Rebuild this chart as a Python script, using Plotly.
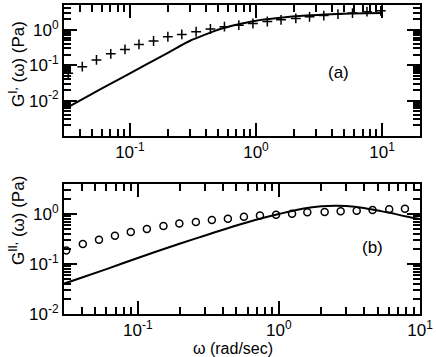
import numpy as np
import plotly.graph_objects as go

# --- data ---
# (a) storage modulus G'
w_a = [0.0324, 0.0419, 0.0543, 0.0705, 0.0914, 0.118, 0.154, 0.200, 0.258, 0.335, 0.435, 0.562,
       0.731, 0.946, 1.23, 1.58, 2.07, 2.66, 3.45, 4.47, 5.83, 7.59, 9.77]
g1_pts = [0.059, 0.091, 0.141, 0.209, 0.279, 0.386, 0.481, 0.635, 0.738, 0.879, 1.05, 1.22,
          1.35, 1.50, 1.71, 1.91, 2.09, 2.32, 2.51, 2.75, 2.95, 3.24, 3.43]
w_fit_a = [0.031, 0.06, 0.1, 0.2, 0.3, 0.4, 0.5, 0.7, 1.0, 1.5, 2.5, 4, 6, 10]
g1_fit = [0.0060, 0.022, 0.059, 0.224, 0.49, 0.74, 1.0, 1.38, 1.80, 2.14, 2.51, 2.75, 2.88, 2.95]

# (b) loss modulus G''
w_b = [0.0311, 0.0408, 0.0531, 0.0689, 0.0892, 0.116, 0.152, 0.197, 0.258, 0.335, 0.435, 0.565,
       0.734, 0.955, 1.24, 1.59, 2.11, 2.74, 3.56, 4.61, 6.05, 7.82]
g2_pts = [0.187, 0.251, 0.306, 0.368, 0.436, 0.501, 0.575, 0.649, 0.692, 0.759, 0.805, 0.883,
          0.938, 0.968, 1.01, 1.08, 1.10, 1.13, 1.16, 1.20, 1.24, 1.28]
w_fit_b = [0.03, 0.06, 0.1, 0.2, 0.3, 0.5, 0.7, 1.0, 1.5, 2.0, 2.5, 3.0, 4, 5, 6, 8, 10]
g2_fit = [0.0404, 0.079, 0.132, 0.257, 0.372, 0.589, 0.776, 1.0, 1.29, 1.43, 1.47, 1.45, 1.32,
          1.17, 1.07, 0.89, 0.79]

FONT = "Liberation Sans, Arial, sans-serif"
INK = "black"

def decade_ticks(lo, hi):
    vals = [10.0 ** e for e in range(lo, hi + 1)]
    text = [f"10<sup>{e}</sup>" for e in range(lo, hi + 1)]
    minor = [m * 10.0 ** e for e in range(lo - 1, hi + 1) for m in range(2, 10)]
    return vals, text, minor

fig = go.Figure()

# --- panel (a) ---
fig.add_trace(go.Scatter(x=w_a, y=g1_pts, mode="markers", xaxis="x", yaxis="y",
                         marker=dict(symbol="cross-thin", size=7, line=dict(color=INK, width=1.5))))
fig.add_trace(go.Scatter(x=w_fit_a, y=g1_fit, mode="lines", xaxis="x", yaxis="y",
                         line=dict(color=INK, width=2, shape="spline")))
# --- panel (b) ---
fig.add_trace(go.Scatter(x=w_b, y=g2_pts, mode="markers", xaxis="x2", yaxis="y2",
                         marker=dict(symbol="circle-open", size=7, color=INK, line=dict(color=INK, width=1.5))))
fig.add_trace(go.Scatter(x=w_fit_b, y=g2_fit, mode="lines", xaxis="x2", yaxis="y2",
                         line=dict(color=INK, width=2, shape="spline")))

def ax_style(vals, text, minor, rng, **kw):
    d = dict(type="log", range=rng, tickmode="array", tickvals=vals, ticktext=text,
             ticks="inside", ticklen=13, tickwidth=1.5, tickcolor=INK,
             showline=True, linewidth=2, linecolor=INK, mirror="allticks",
             showgrid=False, zeroline=False, automargin=False,
             tickfont=dict(family=FONT, size=17, color=INK),
             minor=dict(tickmode="array", tickvals=minor, ticks="inside", ticklen=7,
                        tickwidth=1.5, tickcolor=INK, showgrid=False))
    d.update(kw)
    return d

xv, xt, xm = decade_ticks(-1, 1)
yv_a, yt_a, ym_a = decade_ticks(-2, 0)
yv_b, yt_b, ym_b = decade_ticks(-2, 0)

fig.update_layout(
    width=436, height=357,
    margin=dict(l=64, r=16, t=5, b=43),
    paper_bgcolor="white", plot_bgcolor="white",
    showlegend=False,
    xaxis=ax_style(xv, xt, xm, [np.log10(0.03), np.log10(20)], domain=[0, 1], anchor="y"),
    yaxis=ax_style(yv_a, yt_a, ym_a + [0.002, 0.003, 0.004, 0.005, 0.006, 0.007, 0.008, 0.009],
                   [np.log10(0.001), np.log10(5)], domain=[0.576, 1], anchor="x"),
    xaxis2=ax_style(xv, xt, xm, [np.log10(0.03), 1], domain=[0, 1], anchor="y2"),
    yaxis2=ax_style(yv_b, yt_b, ym_b, [-2, np.log10(4)], domain=[0, 0.421], anchor="x2"),
)

lab = dict(xref="paper", yref="paper", showarrow=False, xanchor="center", yanchor="middle")
fig.add_annotation(text="G<sup>I,</sup> (ω) (Pa)", x=-0.132, y=0.809, textangle=-90,
                   font=dict(family=FONT, size=17, color=INK), **lab)
fig.add_annotation(text="G<sup>II,</sup> (ω) (Pa)", x=-0.132, y=0.301, textangle=-90,
                   font=dict(family=FONT, size=17, color=INK), **lab)
fig.add_annotation(text="ω (rad/sec)", x=0.475, y=-0.113,
                   font=dict(family=FONT, size=16, color=INK), **lab)
fig.add_annotation(text="(a)", x=0.77, y=0.78,
                   font=dict(family=FONT, size=17, color=INK), **lab)
fig.add_annotation(text="(b)", x=0.866, y=0.215,
                   font=dict(family=FONT, size=17, color=INK), **lab)

# page body has an 8px default margin; drop it so the figure fills the window
fig.write_html("out.html", config={"displayModeBar": False},
               post_script="document.body.style.margin='0';")
